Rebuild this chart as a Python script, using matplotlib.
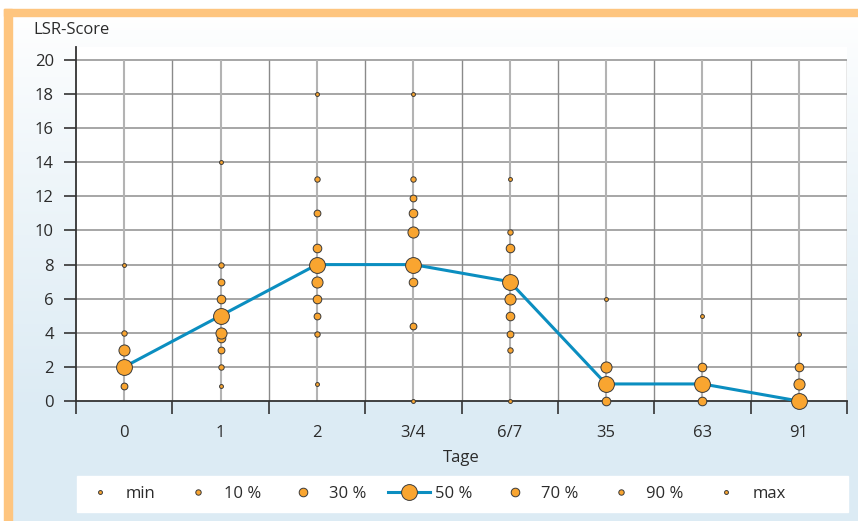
import numpy as np
import matplotlib.pyplot as plt
from matplotlib.patches import Rectangle

plt.rcParams['font.family'] = ['Open Sans', 'DejaVu Sans']

# days after onset and LSR-score percentiles per day
tage = ['0', '1', '2', '3/4', '6/7', '35', '63', '91']
p_min = [0.9, 0.9, 1, 0, 0, 0, 0, 0]
p10 = [0.9, 2, 3.9, 4.4, 3, 0, 0, 0]
p20 = [0.9, 3, 5, 4.4, 3.9, 0, 0, 0]
p30 = [2, 3.7, 6, 7, 5, 0, 0, 0]
p40 = [2, 4, 7, 8, 6, 1, 1, 0]
p50 = [2, 5, 8, 8, 7, 1, 1, 0]
p60 = [3, 5, 8, 9.9, 7, 2, 1, 1]
p70 = [3, 6, 9, 11, 9, 2, 2, 2]
p80 = [3, 7, 11, 11.9, 9, 2, 2, 2]
p90 = [4, 8, 13, 13, 9.9, 2, 2, 2]
p_max = [8, 14, 18, 18, 13, 6, 5, 3.9]

orange = '#f9a530'
edge = '#3a3a3a'
blue = '#0b8ec0'
txt = '#2b2b2b'

fig = plt.figure(figsize=(8.58, 5.21), dpi=100)

# background: white at top fading to pale blue
bg = fig.add_axes([0, 0, 1, 1], zorder=-10)
h = 521
yy = np.linspace(0, 1, h)[:, None]
t = np.clip((yy * h - 16) / 400, 0, 1) ** 0.85
top = np.array([1.0, 1.0, 1.0])
bot = np.array([0xdc, 0xeb, 0xf4]) / 255
img = top[None, None, :] * (1 - t[..., None]) + bot[None, None, :] * t[..., None]
img = np.repeat(img, 2, axis=1)
bg.imshow(img, aspect='auto', extent=[0, 1, 0, 1], origin='upper')
bg.set_axis_off()
fig.patches.append(Rectangle((0, 1 - 9 / 521), 1, 9 / 521, transform=fig.transFigure,
                             color='white', zorder=-5))
fig.patches.append(Rectangle((0, 0), 4 / 858, 1, transform=fig.transFigure,
                             color='white', zorder=-5))
fig.patches.append(Rectangle((4 / 858, 1 - 16 / 521), 1, 7 / 521, transform=fig.transFigure,
                             color='#fec57f', zorder=-4))
fig.patches.append(Rectangle((4 / 858, 0), 7.5 / 858, 1 - 9 / 521, transform=fig.transFigure,
                             color='#fec57f', zorder=-4))
# white legend band
fig.patches.append(Rectangle((77 / 858, 9 / 521), 771 / 858, 36 / 521,
                             transform=fig.transFigure, color='white', zorder=-3))

ax = fig.add_axes([76 / 858, 120 / 521, 771 / 858, 354 / 521])
ax.set_facecolor('white')
x = np.arange(1, len(tage) + 1)
ax.set_xlim(0.5, len(tage) + 0.5)
ax.set_ylim(0, 20.76)

# grid
ax.hlines(np.arange(2, 21, 2), 0.5, len(tage) + 0.5, color='#8e8e8e', lw=1.1, zorder=1)
ax.vlines(x, 0, 20, color='#b3b3b3', lw=1.5, zorder=1)
ax.vlines(np.arange(1.5, len(tage) + 0.6, 1), 0, 20, color='#8a8a8a', lw=1.0, zorder=1)

# percentile points, small ones underneath the larger ones
series = [
    (p_min, 2.8, 'min'), (p_max, 2.8, 'max'),
    (p10, 3.9, '10 %'), (p90, 3.9, '90 %'),
    (p20, 4.9, None), (p80, 4.9, None),
    (p30, 6.2, '30 %'), (p70, 6.2, '70 %'),
    (p40, 8.0, None), (p60, 8.0, None),
]
handles = {}
for i, (vals, ms, lab) in enumerate(series):
    ln, = ax.plot(x, vals, 'o', ms=ms, mfc=orange, mec=edge, mew=0.7,
                  zorder=3 + i * 0.1, clip_on=False)
    if lab:
        handles[lab] = ln
med, = ax.plot(x, p50, '-o', color=blue, lw=2.2, ms=11.4, mfc=orange, mec=edge,
               mew=0.7, zorder=5, clip_on=False)
handles['50 %'] = med

for s in ['top', 'right']:
    ax.spines[s].set_visible(False)
ax.spines['left'].set_color('#333333')
ax.spines['bottom'].set_color('#333333')
ax.spines['left'].set_linewidth(1.3)
ax.spines['bottom'].set_linewidth(1.3)

ax.set_yticks(np.arange(0, 21, 2))
ax.tick_params(axis='y', length=9, width=1.2, color='#333333', labelsize=12,
               labelcolor=txt, pad=7)
ax.set_xticks(np.arange(0.5, len(tage) + 0.6, 1))
ax.set_xticklabels([])
ax.tick_params(axis='x', which='major', length=9, width=1.2, color='#333333')
ax.set_xticks(x, minor=True)
ax.set_xticklabels(tage, minor=True)
ax.tick_params(axis='x', which='minor', length=0, pad=17, labelsize=12, labelcolor=txt)
ax.set_xlabel('Tage', fontsize=12, color=txt, labelpad=7)

fig.text(33 / 858, 1 - 30 / 521, 'LSR-Score', fontsize=12, color=txt, va='center')

order = ['min', '10 %', '30 %', '50 %', '70 %', '90 %', 'max']
leg = fig.legend([handles[k] for k in order], order, loc='center left', ncol=7,
                 bbox_to_anchor=(79 / 858, 27 / 521), frameon=False,
                 borderaxespad=0, borderpad=0, numpoints=1, handlelength=2.5,
                 handletextpad=0.3, columnspacing=1.3, fontsize=12, labelcolor=txt)

fig.savefig('out.png', dpi=100)
